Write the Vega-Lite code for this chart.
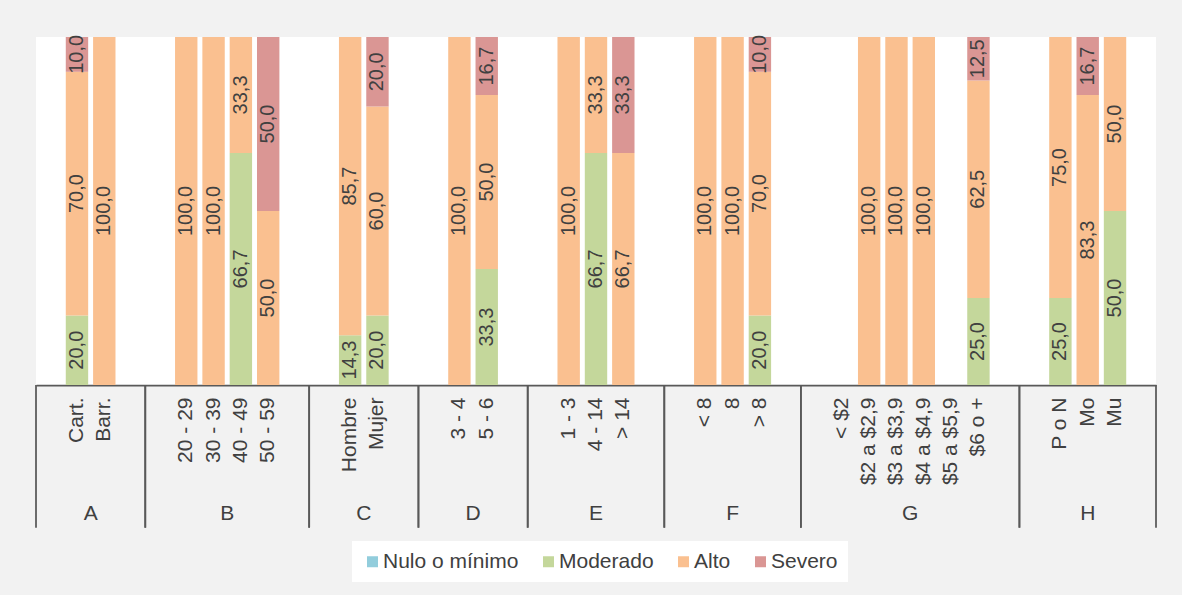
{
  "$schema": "https://vega.github.io/schema/vega-lite/v6.json",
  "width": 1120,
  "height": 348,
  "autosize": {"type": "none"},
  "padding": {"left": 36, "top": 37, "right": 26, "bottom": 210},
  "background": "#f2f2f2",
  "config": {
    "view": {"fill": "white", "stroke": null},
    "font": "Liberation Sans",
    "locale": {"number": {"decimal": ",", "thousands": ".", "grouping": [3], "currency": ["$", ""]}}
  },
  "datasets": {
    "barras": [
      {"grupo": "A", "cat": "Cart.", "nivel": "Moderado", "pct": 20.0},
      {"grupo": "A", "cat": "Cart.", "nivel": "Alto", "pct": 70.0},
      {"grupo": "A", "cat": "Cart.", "nivel": "Severo", "pct": 10.0},
      {"grupo": "A", "cat": "Barr.", "nivel": "Alto", "pct": 100.0},
      {"grupo": "B", "cat": "20 - 29", "nivel": "Alto", "pct": 100.0},
      {"grupo": "B", "cat": "30 - 39", "nivel": "Alto", "pct": 100.0},
      {"grupo": "B", "cat": "40 - 49", "nivel": "Moderado", "pct": 66.7},
      {"grupo": "B", "cat": "40 - 49", "nivel": "Alto", "pct": 33.3},
      {"grupo": "B", "cat": "50 - 59", "nivel": "Alto", "pct": 50.0},
      {"grupo": "B", "cat": "50 - 59", "nivel": "Severo", "pct": 50.0},
      {"grupo": "C", "cat": "Hombre", "nivel": "Moderado", "pct": 14.3},
      {"grupo": "C", "cat": "Hombre", "nivel": "Alto", "pct": 85.7},
      {"grupo": "C", "cat": "Mujer", "nivel": "Moderado", "pct": 20.0},
      {"grupo": "C", "cat": "Mujer", "nivel": "Alto", "pct": 60.0},
      {"grupo": "C", "cat": "Mujer", "nivel": "Severo", "pct": 20.0},
      {"grupo": "D", "cat": "3 - 4", "nivel": "Alto", "pct": 100.0},
      {"grupo": "D", "cat": "5 - 6", "nivel": "Moderado", "pct": 33.3},
      {"grupo": "D", "cat": "5 - 6", "nivel": "Alto", "pct": 50.0},
      {"grupo": "D", "cat": "5 - 6", "nivel": "Severo", "pct": 16.7},
      {"grupo": "E", "cat": "1 - 3", "nivel": "Alto", "pct": 100.0},
      {"grupo": "E", "cat": "4 - 14", "nivel": "Moderado", "pct": 66.7},
      {"grupo": "E", "cat": "4 - 14", "nivel": "Alto", "pct": 33.3},
      {"grupo": "E", "cat": "> 14", "nivel": "Alto", "pct": 66.7},
      {"grupo": "E", "cat": "> 14", "nivel": "Severo", "pct": 33.3},
      {"grupo": "F", "cat": "< 8", "nivel": "Alto", "pct": 100.0},
      {"grupo": "F", "cat": "8", "nivel": "Alto", "pct": 100.0},
      {"grupo": "F", "cat": "> 8", "nivel": "Moderado", "pct": 20.0},
      {"grupo": "F", "cat": "> 8", "nivel": "Alto", "pct": 70.0},
      {"grupo": "F", "cat": "> 8", "nivel": "Severo", "pct": 10.0},
      {"grupo": "G", "cat": "$2 a $2,9", "nivel": "Alto", "pct": 100.0},
      {"grupo": "G", "cat": "$3 a $3,9", "nivel": "Alto", "pct": 100.0},
      {"grupo": "G", "cat": "$4 a $4,9", "nivel": "Alto", "pct": 100.0},
      {"grupo": "G", "cat": "$6 o +", "nivel": "Moderado", "pct": 25.0},
      {"grupo": "G", "cat": "$6 o +", "nivel": "Alto", "pct": 62.5},
      {"grupo": "G", "cat": "$6 o +", "nivel": "Severo", "pct": 12.5},
      {"grupo": "H", "cat": "P o N", "nivel": "Moderado", "pct": 25.0},
      {"grupo": "H", "cat": "P o N", "nivel": "Alto", "pct": 75.0},
      {"grupo": "H", "cat": "Mo", "nivel": "Alto", "pct": 83.3},
      {"grupo": "H", "cat": "Mo", "nivel": "Severo", "pct": 16.7},
      {"grupo": "H", "cat": "Mu", "nivel": "Moderado", "pct": 50.0},
      {"grupo": "H", "cat": "Mu", "nivel": "Alto", "pct": 50.0}
    ],
    "grupos": [
      {"grupo": "A", "desde": 0, "hasta": 4},
      {"grupo": "B", "desde": 4, "hasta": 10},
      {"grupo": "C", "desde": 10, "hasta": 14},
      {"grupo": "D", "desde": 14, "hasta": 18},
      {"grupo": "E", "desde": 18, "hasta": 23},
      {"grupo": "F", "desde": 23, "hasta": 28},
      {"grupo": "G", "desde": 28, "hasta": 36},
      {"grupo": "H", "desde": 36, "hasta": 41}
    ]
  },
  "layer": [
    {
      "data": {"name": "barras"},
      "transform": [
        {"calculate": "indexof(['Nulo o mínimo','Moderado','Alto','Severo'], datum.nivel)", "as": "orden"},
        {"stack": "pct", "groupby": ["cat"], "sort": [{"field": "orden", "order": "ascending"}], "as": ["y0", "y1"]},
        {"calculate": "(datum.y0 + datum.y1) / 2", "as": "ymid"}
      ],
      "encoding": {
        "x": {
          "field": "cat",
          "type": "nominal",
          "scale": {
            "domain": ["_a0", "Cart.", "Barr.", "_a3", "_b0", "20 - 29", "30 - 39", "40 - 49", "50 - 59", "_b5", "_c0", "Hombre", "Mujer", "_c3", "_d0", "3 - 4", "5 - 6", "_d3", "_e0", "1 - 3", "4 - 14", "> 14", "_e4", "_f0", "< 8", "8", "> 8", "_f4", "_g0", "< $2", "$2 a $2,9", "$3 a $3,9", "$4 a $4,9", "$5 a $5,9", "$6 o +", "_g7", "_h0", "P o N", "Mo", "Mu", "_h4"],
            "paddingInner": 0.18,
            "paddingOuter": 0.09
          },
          "axis": {
            "title": null,
            "labelAngle": 270,
            "labelFontSize": 21,
            "labelColor": "#404040",
            "labelPadding": 12,
            "labelOverlap": false,
            "labelLimit": 0,
            "ticks": false,
            "grid": false,
            "domainColor": "#595959",
            "domainWidth": 1.75,
            "labelExpr": "indexof(datum.label, '_') == 0 ? '' : datum.label"
          }
        }
      },
      "layer": [
        {
          "mark": {"type": "bar"},
          "encoding": {
            "y": {"field": "y0", "type": "quantitative", "scale": {"domain": [0, 100], "nice": false}, "axis": null},
            "y2": {"field": "y1"},
            "color": {
              "field": "nivel",
              "type": "nominal",
              "scale": {
                "domain": ["Nulo o mínimo", "Moderado", "Alto", "Severo"],
                "range": ["#92cddc", "#c4d79b", "#fac090", "#da9694"]
              },
              "legend": {
                "title": null,
                "orient": "none",
                "legendX": 316,
                "legendY": 504,
                "direction": "horizontal",
                "columns": 4,
                "symbolType": "square",
                "symbolSize": 121,
                "symbolStrokeWidth": 0,
                "labelFontSize": 21,
                "labelColor": "#404040",
                "labelOffset": 0,
                "columnPadding": 19,
                "fillColor": "white",
                "padding": 10
              }
            }
          }
        },
        {
          "mark": {"type": "text", "angle": 270, "align": "center", "baseline": "middle", "fontSize": 20, "color": "#404040"},
          "encoding": {
            "y": {"field": "ymid", "type": "quantitative"},
            "text": {"field": "pct", "type": "quantitative", "format": ".1f"}
          }
        }
      ]
    },
    {
      "data": {"name": "grupos"},
      "transform": [{"calculate": "(datum.desde + datum.hasta) / 2", "as": "centro"}],
      "layer": [
        {
          "mark": {"type": "rule", "color": "#595959", "strokeWidth": 1.75},
          "encoding": {
            "x": {"field": "desde", "type": "quantitative", "scale": {"domain": [0, 41], "nice": false, "zero": false}, "axis": null},
            "y": {"datum": 0, "type": "quantitative"},
            "y2": {"datum": -41}
          }
        },
        {
          "mark": {"type": "rule", "color": "#595959", "strokeWidth": 1.75},
          "encoding": {
            "x": {"field": "hasta", "type": "quantitative"},
            "y": {"datum": 0, "type": "quantitative"},
            "y2": {"datum": -41}
          }
        },
        {
          "mark": {"type": "text", "align": "center", "baseline": "middle", "fontSize": 21, "color": "#404040"},
          "encoding": {
            "x": {"field": "centro", "type": "quantitative"},
            "y": {"datum": -37.2, "type": "quantitative"},
            "text": {"field": "grupo", "type": "nominal"}
          }
        }
      ]
    }
  ],
  "resolve": {"scale": {"x": "independent"}}
}
